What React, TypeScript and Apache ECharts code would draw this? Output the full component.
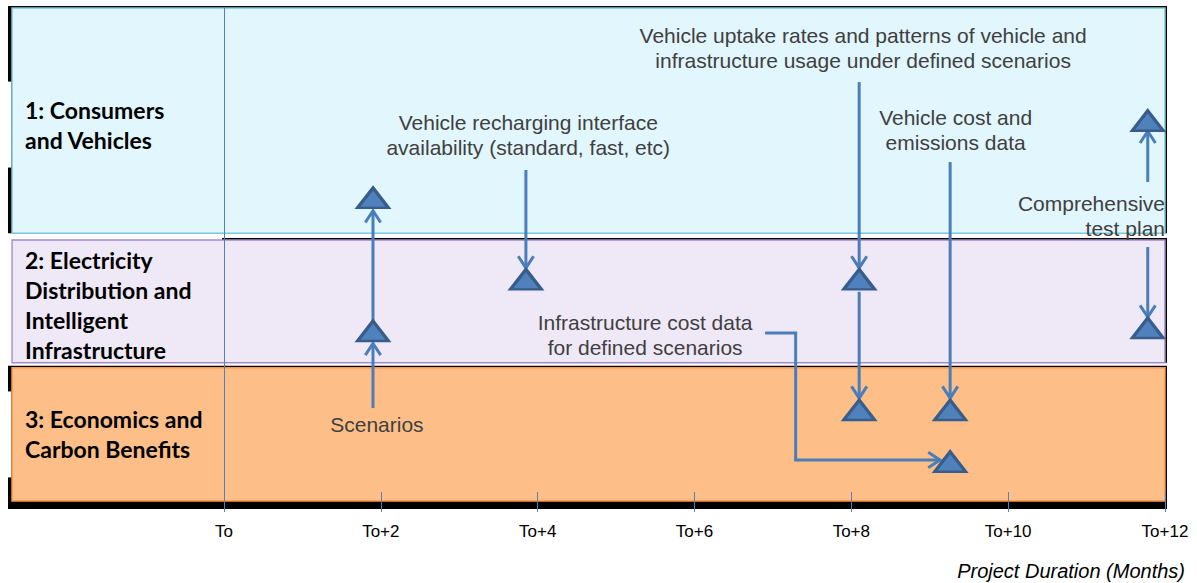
import React, { useEffect, useRef } from "react";
import * as echarts from "echarts";

// ---- axis ----
const xMin = 0;
const xMax = 12;
const xStep = 2;
const tickLabels = ["To", "To+2", "To+4", "To+6", "To+8", "To+10", "To+12"];
const axisTitle = "Project Duration (Months)";
const yMin = 0;
const yMax = 100;

// ---- work-stream bands (vertical extent in level units) ----
const bandNames = [
  "1: Consumers\nand Vehicles",
  "2: Electricity\nDistribution and\nIntelligent\nInfrastructure",
  "3: Economics and\nCarbon Benefits",
];
const bandLow = [54.7, 28.6, 0];
const bandHigh = [100, 53.3, 27.6];
const bandFill = ["#E1F6FD", "#EFE9F7", "#FDBF87"];
const bandBorder = ["#7CC6D9", "#A38BC6", "#F79646"];

// ---- deliverables (triangles) ----
const deliverableMonth = [1.9, 1.9, 3.85, 8.1, 8.1, 9.26, 9.26, 11.78, 11.78];
const deliverableLevel = [61.8, 35.0, 45.4, 45.4, 19.1, 19.1, 8.7, 77.3, 35.6];

// ---- information flows (arrows), [month, level] points ----
const arrowPaths: number[][][] = [
  [[1.9, 19.5], [1.9, 32.5]],
  [[1.9, 36.8], [1.9, 59.2]],
  [[3.85, 67.4], [3.85, 47.7]],
  [[8.1, 85.1], [8.1, 47.7]],
  [[8.1, 42.9], [8.1, 21.5]],
  [[9.26, 69.0], [9.26, 21.5]],
  [[6.9, 34.6], [7.29, 34.6], [7.29, 9.05], [9.13, 9.05]],
  [[11.78, 65.0], [11.78, 75.2]],
  [[11.78, 51.9], [11.78, 37.8]],
];

// ---- annotations ----
const noteTexts = [
  "Vehicle uptake rates and patterns of vehicle and\ninfrastructure usage under defined scenarios",
  "Vehicle recharging interface\navailability (standard, fast, etc)",
  "Vehicle cost and\nemissions data",
  "Comprehensive\ntest plan",
  "Infrastructure cost data\nfor defined scenarios",
  "Scenarios",
];
const noteMonth = [8.15, 3.88, 9.33, 12.0, 5.37, 1.95];
const noteLevel = [91.9, 74.4, 75.4, 58.2, 34.2, 16.1];
const noteAlign = ["center", "center", "center", "right", "center", "center"];

const ARROW = "#4A7EBB";

export default function App() {
  const ref = useRef<HTMLDivElement>(null);

  useEffect(() => {
    if (!ref.current) return;
    const chart = echarts.init(ref.current, null, { renderer: "svg" });

    const bandSeries = {
      type: "custom",
      z: 1,
      clip: false,
      silent: true,
      data: bandLow.map((lo, i) => [xMax, lo, bandHigh[i], i]),
      encode: { x: 0, y: 1 },
      renderItem: (params: any, api: any) => {
        const i = params.dataIndex;
        const last = i === bandLow.length - 1;
        const top = api.coord([xMax, bandHigh[i]]);
        const bot = api.coord([xMax, bandLow[i]]);
        const zero = api.coord([xMin, bandLow[i]]);
        const L = 12;
        const R = top[0];
        const T = top[1];
        const B = bot[1];
        const fillB = last ? B - 4 : B;
        const lines = bandNames[i].split("\n").length;
        const cy = (T + fillB) / 2 + (last ? 0 : 4);
        const blockH = lines * 30 + 26;
        const coverT = Math.max(T - 2, cy - blockH / 2);
        const coverB = Math.min(B + 1, cy + blockH / 2);
        const blackX = i === 1 ? zero[0] - 2 : L - 4;
        return {
          type: "group",
          children: [
            {
              type: "rect",
              shape: { x: blackX, y: T - 2, width: R + 2 - blackX, height: fillB - T + (last ? 10 : 2) },
              style: { fill: "#000" },
            },
            {
              type: "rect",
              shape: { x: L, y: T, width: R - L, height: fillB - T },
              style: { fill: bandFill[i], stroke: bandBorder[i], lineWidth: 1.5 },
            },
            {
              type: "rect",
              shape: { x: L - 5, y: coverT, width: 4.2, height: Math.max(0, coverB - coverT) },
              style: { fill: "#fff" },
            },
            {
              type: "text",
              x: 25,
              y: cy,
              style: {
                text: bandNames[i],
                fill: "#000",
                fontFamily: "Lato",
                fontWeight: "bold",
                fontSize: 23,
                lineHeight: 30,
                align: "left",
                verticalAlign: "middle",
              },
            },
          ],
        };
      },
    };

    const arrowSeries = {
      type: "custom",
      z: 3,
      clip: false,
      silent: true,
      data: arrowPaths.map((p, i) => [p[0][0], p[0][1], i]),
      encode: { x: 0, y: 1 },
      renderItem: (params: any, api: any) => {
        const path = arrowPaths[params.dataIndex];
        const pts = path.map((p) => api.coord(p));
        const n = pts.length;
        const [tx, ty] = pts[n - 1];
        const [px, py] = pts[n - 2];
        const ang = Math.atan2(ty - py, tx - px);
        const hl = 14;
        const ha = 0.58;
        const w1 = [tx - hl * Math.cos(ang - ha), ty - hl * Math.sin(ang - ha)];
        const w2 = [tx - hl * Math.cos(ang + ha), ty - hl * Math.sin(ang + ha)];
        return {
          type: "group",
          children: [
            {
              type: "polyline",
              shape: { points: pts },
              style: { stroke: ARROW, lineWidth: 3, fill: "none", lineJoin: "miter" },
            },
            {
              type: "polyline",
              shape: { points: [w1, [tx, ty], w2] },
              style: { stroke: ARROW, lineWidth: 3, fill: "none", lineJoin: "miter" },
            },
          ],
        };
      },
    };

    const triangleSeries = {
      type: "scatter",
      z: 4,
      silent: true,
      symbol: "triangle",
      symbolSize: [31, 20],
      itemStyle: { color: "#4F81BD", borderColor: "#385D8A", borderWidth: 3, opacity: 1 },
      data: deliverableMonth.map((m, i) => [m, deliverableLevel[i]]),
    };

    const noteSeries = {
      type: "custom",
      z: 5,
      clip: false,
      silent: true,
      data: noteMonth.map((m, i) => [m, noteLevel[i], i]),
      encode: { x: 0, y: 1 },
      renderItem: (params: any, api: any) => {
        const i = params.dataIndex;
        const c = api.coord([noteMonth[i], noteLevel[i]]);
        return {
          type: "text",
          x: c[0],
          y: c[1],
          style: {
            text: noteTexts[i],
            fill: "#404040",
            fontFamily: "Liberation Sans",
            fontSize: 21,
            lineHeight: 25,
            align: noteAlign[i],
            verticalAlign: "middle",
          },
        };
      },
    };

    chart.setOption({
      animation: false,
      grid: { left: 224, right: 32, top: 8, bottom: 78 },
      xAxis: {
        type: "value",
        min: xMin,
        max: xMax,
        interval: xStep,
        offset: -13,
        z: 6,
        axisLine: { show: false },
        axisTick: { show: true, length: 20, lineStyle: { color: "#4F81BD", width: 1 } },
        splitLine: { show: false },
        axisLabel: {
          margin: 31,
          color: "#000",
          fontFamily: "Liberation Sans",
          fontSize: 17,
          formatter: (v: number) => tickLabels[Math.round((v - xMin) / xStep)] ?? "",
        },
      },
      yAxis: {
        type: "value",
        min: yMin,
        max: yMax,
        z: 6,
        axisLine: { show: true, lineStyle: { color: "#4F81BD", width: 1 } },
        axisTick: { show: false },
        axisLabel: { show: false },
        splitLine: { show: false },
      },
      graphic: [
        {
          type: "text",
          right: 12,
          top: 561,
          style: {
            text: axisTitle,
            fill: "#000",
            fontFamily: "Liberation Sans",
            fontStyle: "italic",
            fontSize: 20,
          },
        },
      ],
      series: [bandSeries, arrowSeries, triangleSeries, noteSeries],
    });

    return () => chart.dispose();
  }, []);

  return (
    <div
      ref={ref}
      style={{ position: "fixed", left: 0, top: 0, width: 1197, height: 583, background: "#fff" }}
    />
  );
}
